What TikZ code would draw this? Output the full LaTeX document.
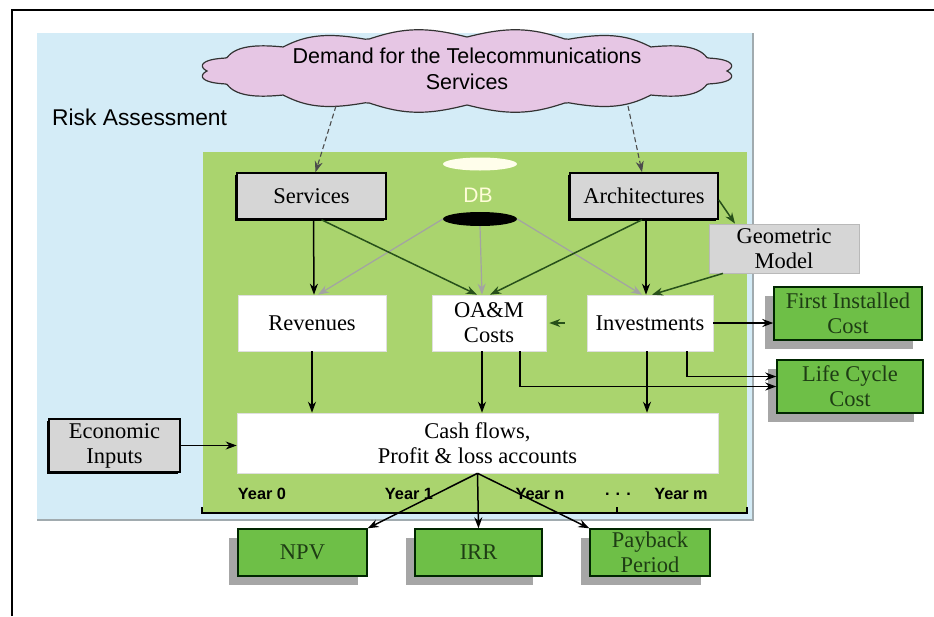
\documentclass[tikz,border=0pt]{standalone}
\usepackage{fontspec}
\setmainfont{Liberation Serif}
\setsansfont{Liberation Sans}
\usetikzlibrary{arrows.meta,shapes.geometric,shadows}
\definecolor{sky}{HTML}{D4ECF7}
\definecolor{leaf}{HTML}{AAD46E}
\definecolor{res}{HTML}{6EBF47}
\definecolor{lilac}{HTML}{E6C6E4}
\definecolor{grey1}{HTML}{D6D6D6}
\definecolor{dkgreen}{HTML}{27501A}
\definecolor{dbline}{HTML}{A3A3A3}
\definecolor{restext}{HTML}{1E3D14}

\tikzset{
  lbl/.style={font=\fontsize{22.5}{25}\selectfont, align=center, inner sep=0pt},
  inbox/.style={lbl, draw=black, line width=1.6pt, fill=grey1,
    drop shadow={shadow xshift=-2pt, shadow yshift=-2pt, fill=black, opacity=1}},
  calcbox/.style={lbl, fill=white, draw=gray!25, line width=0.6pt},
  outbox/.style={lbl, draw=black!85!green, line width=1.4pt, fill=res, text=restext,
    drop shadow={shadow xshift=-9pt, shadow yshift=-9pt, fill=gray!70, opacity=1}},
  arr/.style={-{Stealth[length=11pt,width=8pt]}, line width=1.5pt},
  grarr/.style={arr, dkgreen},
  dbarr/.style={arr, dbline, line width=1.2pt},
  dasharr/.style={arr, dash pattern=on 5pt off 3pt, line width=1.1pt, black!70},
  yr/.style={font=\fontsize{16.3}{18}\sffamily\bfseries\selectfont, inner sep=0pt}
}

\begin{document}
\begin{tikzpicture}[x=1pt,y=-1pt]
\useasboundingbox (0,0) rectangle (934,616);
\draw[line width=2pt] (12,616) -- (12,10) -- (934,10);

% panels
\fill[sky] (37,33) rectangle (753,520);
\draw[gray!60!sky, line width=1.5pt] (37,520) -- (753,520) -- (753,33);
\fill[leaf] (203,152) rectangle (747,513);
\node[anchor=west, font=\fontsize{22.8}{26}\sffamily\selectfont, inner sep=0pt] (risk) at (52,117) {Risk Assessment};

% demand cloud: scalloped ellipse
\draw[fill=lilac, draw=black!80, line width=1.2pt]
  plot[domain=0:360, samples=361, variable=\t]
  ({467+(268-8*(1-abs(sin(8*\t))))*cos(\t)}, {71-(42-8*(1-abs(sin(8*\t))))*sin(\t)}) -- cycle;
\node[align=center, inner sep=0pt, font=\fontsize{21.5}{26}\sffamily\selectfont] (demand) at (467,69)
  {Demand for the Telecommunications\\Services};
\coordinate (dL) at (336,106);
\coordinate (dR) at (628,106);

% database
\node[ellipse, fill=white!92!yellow, minimum width=74pt, minimum height=13pt, inner sep=0pt] (dbtop) at (480,164) {};
\node[ellipse, fill=black, minimum width=74pt, minimum height=14pt, inner sep=0pt] (dbbot) at (480,219) {};
\node[font=\fontsize{21}{24}\sffamily\selectfont, text=white!85!yellow, inner sep=0pt] (dbname) at (478,195) {DB};

% inputs
\node[inbox, minimum width=149pt, minimum height=46pt] (serv) at (311.5,196) {Services};
\node[inbox, minimum width=148pt, minimum height=46pt] (arch) at (644,196) {Architectures};
\node[inbox, minimum width=131pt, minimum height=53pt] (econ) at (114.5,445.5) {Economic\\Inputs};
\node[lbl, fill=grey1, draw=gray!55, line width=0.8pt, minimum width=150pt, minimum height=49pt] (geo) at (784,248.5) {Geometric\\Model};

% calculation
\node[calcbox, minimum width=148pt, minimum height=56pt] (rev) at (312,323) {Revenues};
\node[calcbox, minimum width=114pt, minimum height=56pt] (oam) at (489,323) {OA\&M\\Costs};
\node[calcbox, minimum width=126pt, minimum height=56pt] (inv) at (650,323) {Investments};
\node[calcbox, minimum width=481pt, minimum height=60pt] (cash) at (477.5,443) {Cash flows,\\Profit \& loss accounts};

% results
\node[outbox, minimum width=148pt, minimum height=53pt] (fic) at (848,313.5) {First Installed\\Cost};
\node[outbox, minimum width=146pt, minimum height=53pt] (lcc) at (850,386.5) {Life Cycle\\Cost};
\node[outbox, minimum width=129pt, minimum height=47pt] (npv) at (302.5,552.5) {NPV};
\node[outbox, minimum width=127pt, minimum height=47pt] (irr) at (478.5,552.5) {IRR};
\node[outbox, minimum width=120pt, minimum height=47pt] (pbp) at (650,552.5) {Payback\\Period};

% years
\node[yr] (y0) at (262,494) {Year 0};
\node[yr] (y1) at (409,494) {Year 1};
\node[yr] (yn) at (540,494) {Year n};
\node[yr] (ydots) at (618,494) {. . .};
\node[yr] (ym) at (681,494) {Year m};
\draw[line width=1.5pt] (202,507) -- (202,513) -- (747,513) -- (747,507);
\draw[line width=1.2pt] (617,513) -- (617,507);

% connectors
\draw[dasharr] (dL) -- ([xshift=4pt]serv.north);
\draw[dasharr] (dR) -- ([xshift=-2pt]arch.north);
\draw[dbarr] (dbbot.west) -- ([xshift=6pt]rev.north);
\draw[dbarr] (dbbot.south) -- ([xshift=-7pt]oam.north);
\draw[dbarr] (dbbot.east) -- ([xshift=-8pt]inv.north);
\draw[arr] ([xshift=2pt]serv.south) -- ([xshift=2pt]rev.north);
\draw[grarr] ([xshift=10pt]serv.south) -- ([xshift=-12pt]oam.north);
\draw[grarr] ([xshift=-2pt]arch.south) -- ([xshift=1pt]oam.north);
\draw[arr] ([xshift=2pt]arch.south) -- ([xshift=-4pt]inv.north);
\draw[grarr] ([yshift=-4pt]arch.east) -- ([xshift=-49pt]geo.north);
\draw[grarr] ([xshift=-61pt]geo.south) -- ([xshift=2pt]inv.north);
\draw[grarr] ([xshift=-22pt]inv.west) -- ([xshift=3pt]oam.east);
\draw[arr] (inv.east) -- (inv.east -| fic.west);
\draw[arr] ([xshift=37pt]inv.south) |- ([yshift=10pt]lcc.west);
\draw[arr] ([xshift=31pt]oam.south) |- (lcc.west);
\draw[arr] (rev.south) -- (rev.south |- cash.north);
\draw[arr] ([xshift=-7pt]oam.south) -- ([xshift=-7pt]oam.south |- cash.north);
\draw[arr] ([xshift=-3pt]inv.south) -- ([xshift=-3pt]inv.south |- cash.north);
\draw[arr] (econ.east) -- (econ.east -| cash.west);
\draw[arr] (cash.south) -- (npv.north east);
\draw[arr] (cash.south) -- (irr.north);
\draw[arr] (cash.south) -- (pbp.north west);
\end{tikzpicture}
\end{document}
